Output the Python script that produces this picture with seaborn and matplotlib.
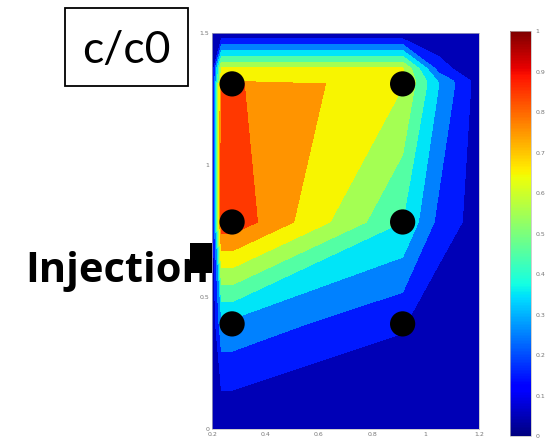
import numpy as np
import matplotlib
matplotlib.use("Agg")
import matplotlib.pyplot as plt
import seaborn as sns

# Grid of node positions (x across the section, y up the section)
grid_x = [0.2, 0.235, 0.275, 0.914, 1.05, 1.2]
grid_y = [0.0, 0.398, 0.784, 1.307, 1.32, 1.365, 1.5]

# Relative concentration c/c0 at the grid nodes, one row per grid_y value
conc_rows = [
    [0.0, 0.000, 0.000, 0.000, 0.00, 0.00],
    [0.0, 0.270, 0.270, 0.110, 0.00, 0.00],
    [0.0, 0.870, 0.870, 0.400, 0.17, 0.05],
    [0.0, 0.815, 0.815, 0.605, 0.30, 0.05],
    [0.0, 0.660, 0.660, 0.620, 0.28, 0.05],
    [0.0, 0.610, 0.610, 0.610, 0.15, 0.00],
    [0.0, 0.000, 0.000, 0.000, 0.00, 0.00],
]

# Sampling ports
port_x = [0.275, 0.914, 0.275, 0.914, 0.275, 0.914]
port_y = [1.307, 1.307, 0.784, 0.784, 0.398, 0.398]

levels = [0.0, 0.1, 0.2, 0.3, 0.4, 0.5, 0.6, 0.7, 0.8, 0.9, 1.0]
cbar_ticks = [0, 0.1, 0.2, 0.3, 0.4, 0.5, 0.6, 0.7, 0.8, 0.9, 1.0]
cbar_labels = ["0", "0.1", "0.2", "0.3", "0.4", "0.5", "0.6", "0.7", "0.8", "0.9", "1"]
xticks = [0.2, 0.4, 0.6, 0.8, 1.0, 1.2]
xlabels = ["0.2", "0.4", "0.6", "0.8", "1", "1.2"]
yticks = [0, 0.5, 1.0, 1.5]
ylabels = ["0", "0.5", "1", "1.5"]

sns.set_theme(style="white")
plt.rcParams["font.family"] = ["DejaVu Sans"]

fig = plt.figure(figsize=(5.48, 4.45), dpi=100)
ax = fig.add_axes([0.387, 0.036, 0.487, 0.890])
cax = fig.add_axes([0.931, 0.020, 0.038, 0.910])

Xg, Yg = np.meshgrid(grid_x, grid_y)
Z = np.array(conc_rows)
ax.contourf(Xg, Yg, Z, levels=levels, cmap="jet", vmin=0, vmax=1)

sns.scatterplot(x=port_x, y=port_y, s=330, color="black", edgecolor="none",
                legend=False, ax=ax, zorder=4)

ax.set_xlim(0.2, 1.2)
ax.set_ylim(0, 1.5)
ax.set_xticks(xticks)
ax.set_xticklabels(xlabels)
ax.set_yticks(yticks)
ax.set_yticklabels(ylabels)
ax.tick_params(labelsize=4.5, colors="#777777", length=0, pad=2)
for sp in ax.spines.values():
    sp.set_color("#bbbbbb")
    sp.set_linewidth(0.5)
ax.set_xlabel("")
ax.set_ylabel("")

sm = matplotlib.cm.ScalarMappable(norm=matplotlib.colors.Normalize(0, 1), cmap="jet")
cb = fig.colorbar(sm, cax=cax)
cb.set_ticks(cbar_ticks)
cb.set_ticklabels(cbar_labels)
cb.ax.tick_params(labelsize=4.5, colors="#777777", length=0, pad=3)
cb.outline.set_edgecolor("#bbbbbb")
cb.outline.set_linewidth(0.5)

W, H = 548, 445

# "Injection" label with the inlet marker on the left wall
fig.text(25 / W, 1 - 282 / H, "Injection", fontsize=30, fontweight="bold",
         family=["Open Sans", "DejaVu Sans"], ha="left", va="baseline", color="black")
fig.patches.append(matplotlib.patches.Rectangle(
    (190 / W, 1 - 273 / H), 22 / W, 30 / H,
    transform=fig.transFigure, facecolor="black", edgecolor="none", zorder=5))

# Boxed quantity label
fig.patches.append(matplotlib.patches.Rectangle(
    (65 / W, 1 - 86 / H), 123 / W, 78 / H,
    transform=fig.transFigure, facecolor="white", edgecolor="black",
    linewidth=1.3, zorder=5))
fig.text(126 / W, 1 - 63 / H, "c/c0", fontsize=32, family=["Lato", "DejaVu Sans"],
         ha="center", va="baseline", color="black", zorder=6)

fig.savefig("out.png", dpi=100)
